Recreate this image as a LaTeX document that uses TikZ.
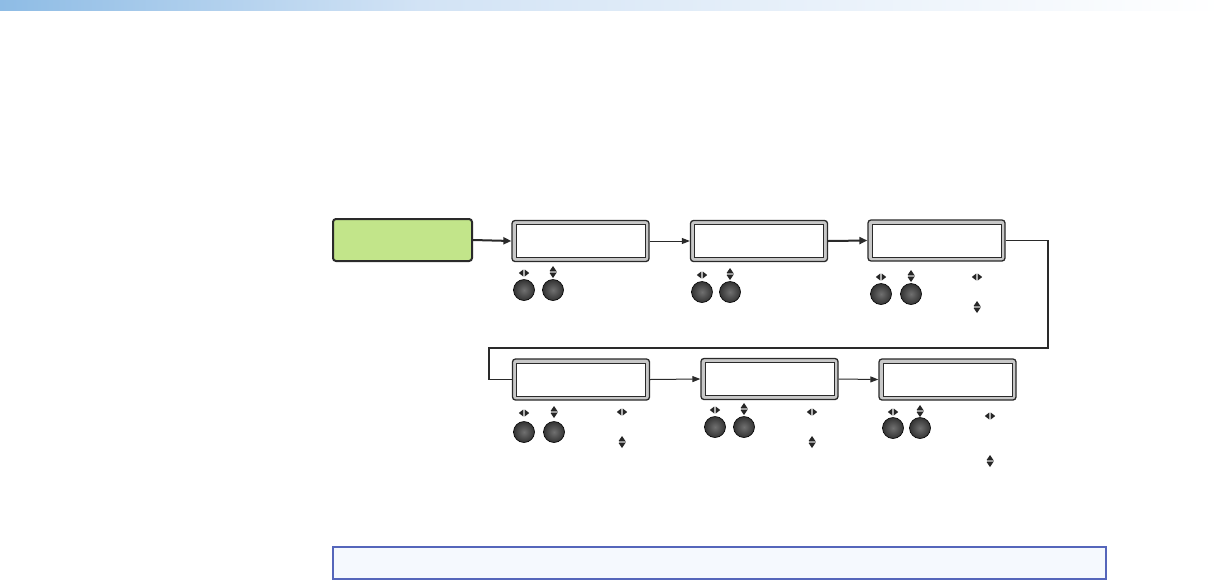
\documentclass[tikz,border=0pt]{standalone}
\usetikzlibrary{arrows.meta}
\definecolor{lcdgray}{HTML}{C8C8C8}
\definecolor{framec}{HTML}{2A2A2A}
\definecolor{greenfill}{HTML}{C2E58A}
\definecolor{notefill}{HTML}{F5F9FE}
\definecolor{notedraw}{HTML}{5566BB}
\definecolor{bandleft}{HTML}{8EBCE5}
\definecolor{bandmid}{HTML}{D2E3F5}
\definecolor{knobin}{HTML}{707070}
\definecolor{knobout}{HTML}{333333}
\tikzset{
  lcd/.style={draw=framec, line width=1.3pt, fill=lcdgray, rounded corners=3pt,
    minimum width=137pt, minimum height=41pt, inner sep=0pt,
    path picture={\draw[framec, line width=1pt, fill=white, sharp corners]
      ([shift={(4pt,-4pt)}]path picture bounding box.north west) rectangle
      ([shift={(-4pt,4pt)}]path picture bounding box.south east);}},
  greenbox/.style={draw=framec, line width=2pt, fill=greenfill, rounded corners=3pt,
    minimum width=139pt, minimum height=42pt, inner sep=0pt},
  knob/.style={circle, draw=black, line width=0.6pt, inner color=knobin, outer color=knobout,
    minimum size=21pt, inner sep=0pt},
  conn/.style={draw=framec, line width=1pt, -{Triangle[length=8pt,width=6pt]}},
  connthick/.style={draw=framec, line width=2pt, -{Triangle[length=8pt,width=7pt]}},
  route/.style={draw=framec, line width=1.4pt},
  lrarrows/.pic={\fill[black!85] (-0.7,-3.5) -- (-5.2,0) -- (-0.7,3.5) -- cycle;
                 \fill[black!85] (0.7,-3.5) -- (5.2,0) -- (0.7,3.5) -- cycle;},
  udarrows/.pic={\fill[black!85] (-3.5,-0.8) -- (0,-6) -- (3.5,-0.8) -- cycle;
                 \fill[black!85] (-3.5,0.8) -- (0,6) -- (3.5,0.8) -- cycle;
                 \fill[black!40] (-3.5,-0.6) rectangle (3.5,0.6);},
}
\begin{document}
\begin{tikzpicture}[x=1pt,y=-1pt]
\useasboundingbox (0,0) rectangle (1224,582);
\fill[white] (0,0) rectangle (1224,582);
% top band
\shade[left color=bandleft, right color=bandmid] (0,0) rectangle (420,10);
\shade[left color=bandmid, right color=white] (420,0) rectangle (1222,10);

% boxes
\node[greenbox] (g) at (402.5,240) {};
\node[lcd] (l1) at (580.5,241) {};
\node[lcd] (l2) at (759,241) {};
\node[lcd] (l3) at (936.5,240.5) {};
\node[lcd] (l4) at (581,379.5) {};
\node[lcd] (l5) at (769.5,379) {};
\node[lcd] (l6) at (947.5,379.5) {};

% knobs
\node[knob] (k1a) at (524,290) {};
\node[knob] (k1b) at (553,290) {};
\node[knob] (k2a) at (702,292) {};
\node[knob] (k2b) at (730,292) {};
\node[knob] (k3a) at (881,294) {};
\node[knob] (k3b) at (911,294) {};
\node[knob] (k4a) at (524,432) {};
\node[knob] (k4b) at (554,432) {};
\node[knob] (k5a) at (715,427) {};
\node[knob] (k5b) at (744,427) {};
\node[knob] (k6a) at (893,428) {};
\node[knob] (k6b) at (920,428) {};

% glyphs above knobs
\pic at (524,273) {lrarrows}; \pic at (553,272) {udarrows};
\pic at (702,275) {lrarrows}; \pic at (730,274) {udarrows};
\pic at (881,277) {lrarrows}; \pic at (911,276) {udarrows};
\pic at (524,413) {lrarrows}; \pic at (554,412) {udarrows};
\pic at (715,410) {lrarrows}; \pic at (744,409) {udarrows};
\pic at (893,412) {lrarrows}; \pic at (920,411) {udarrows};
% extra glyphs
\pic at (977,277) {lrarrows}; \pic at (977,307) {udarrows};
\pic at (622,412) {lrarrows}; \pic at (622,442) {udarrows};
\pic at (812,412) {lrarrows}; \pic at (812,442) {udarrows};
\pic at (990,416) {lrarrows}; \pic at (990,461) {udarrows};

% connectors
\draw[connthick] (g.east) -- (l1.west);
\draw[conn] (l1.east) -- (l2.west);
\draw[connthick] (l2.east) -- (l3.west);
\coordinate (r1) at (1048,348);
\coordinate (r2) at (489,348);
\draw[route] (l3.east) -| (r1) -- (r2) |- (l4.west);
\draw[conn] (l4.east) -- (l5.west);
\draw[conn] (l5.east) -- (l6.west);

% note box
\node[draw=notedraw, line width=2pt, fill=notefill, minimum width=773pt, minimum height=32pt, inner sep=0pt] (note) at (719.5,563) {};
\end{tikzpicture}
\end{document}
